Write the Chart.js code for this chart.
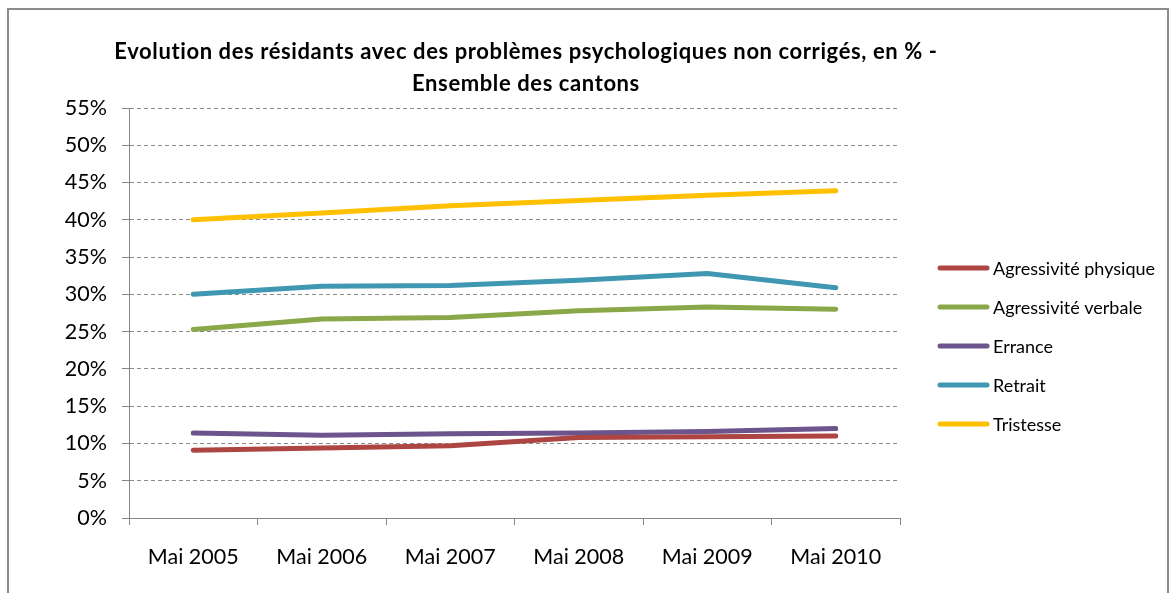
<!DOCTYPE html>
<html>
<head>
<meta charset="utf-8">
<script src="https://cdn.jsdelivr.net/npm/chart.js@4.4.1/dist/chart.umd.min.js"></script>
<style>
    html, body { margin: 0; padding: 0; background: #fff; }
    #wrap { position: relative; width: 1176px; height: 593px; overflow: hidden; }
    #frame { position: absolute; left: 7px; top: 8px; width: 1162px; height: 620px; border: 2px solid #8c8c8c; box-sizing: border-box; }
    canvas { position: absolute; left: 0; top: 0; }
</style>
</head>
<body>
<div id="wrap">
    <div id="frame"></div>
    <canvas id="chart" width="1176" height="593"></canvas>
</div>
<script>
const FONT = 'Lato, "Open Sans", sans-serif';

const titleLines = [
    'Evolution des résidants avec des problèmes psychologiques non corrigés, en % -',
    'Ensemble des cantons'
];
const months = ['Mai 2005', 'Mai 2006', 'Mai 2007', 'Mai 2008', 'Mai 2009', 'Mai 2010'];

const physique = [9.1, 9.4, 9.7, 10.8, 10.9, 11.0];
const verbale = [25.3, 26.7, 26.9, 27.8, 28.3, 28.0];
const errance = [11.4, 11.1, 11.3, 11.4, 11.6, 12.0];
const retrait = [30.0, 31.1, 31.2, 31.9, 32.8, 30.9];
const tristesse = [40.0, 40.9, 41.9, 42.6, 43.3, 43.9];

const seriesNames = ['Agressivité physique', 'Agressivité verbale', 'Errance', 'Retrait', 'Tristesse'];
const seriesColors = ['#ad4542', '#8aa84a', '#6c548c', '#3f97b1', '#ffc000'];
const seriesValues = [physique, verbale, errance, retrait, tristesse];

// title + legend drawn by hand so they sit where the original puts them
const overlay = {
    id: 'overlay',
    afterDraw(chart) {
        const ctx = chart.ctx;
        ctx.save();
        ctx.fillStyle = '#000';
        ctx.textAlign = 'center';
        ctx.textBaseline = 'middle';
        ctx.font = 'bold 22px ' + FONT;
        ctx.fontVariantLigatures = 'none';
        ctx.letterSpacing = '0.6px';
        ctx.fillText(titleLines[0], 526, 52);
        ctx.fillText(titleLines[1], 526, 84);
        ctx.letterSpacing = '0px';

        ctx.font = '18px ' + FONT;
        ctx.textAlign = 'left';
        const ys = [268, 307, 346, 385, 424];
        chart.data.datasets.forEach((ds, i) => {
            ctx.strokeStyle = ds.borderColor;
            ctx.lineWidth = 5;
            ctx.lineCap = 'round';
            ctx.beginPath();
            ctx.moveTo(940, ys[i]);
            ctx.lineTo(987, ys[i]);
            ctx.stroke();
            ctx.fillStyle = '#000';
            ctx.fillText(ds.label, 993, ys[i] + 1);
        });
        ctx.restore();
    }
};

new Chart(document.getElementById('chart'), {
    type: 'line',
    data: {
        labels: months,
        datasets: seriesNames.map((name, i) => ({
            label: name,
            data: seriesValues[i],
            borderColor: seriesColors[i],
            backgroundColor: seriesColors[i],
            borderWidth: 5,
            borderCapStyle: 'round',
            borderJoinStyle: 'round',
            pointRadius: 0,
            tension: 0
        }))
    },
    options: {
        responsive: false,
        animation: false,
        layout: { padding: { left: 10, right: 276, top: 108, bottom: 0 } },
        plugins: {
            legend: { display: false },
            title: { display: false },
            tooltip: { enabled: false }
        },
        scales: {
            x: {
                offset: true,
                afterFit(scale) { scale.height = 75; },
                grid: {
                    offset: true,
                    drawOnChartArea: false,
                    drawTicks: true,
                    tickLength: 7,
                    color: '#868686'
                },
                border: { display: true, color: '#868686', width: 1 },
                ticks: {
                    color: '#000',
                    padding: 19,
                    maxRotation: 0,
                    font: { family: FONT, size: 21.5 }
                }
            },
            y: {
                min: 0,
                max: 55,
                afterFit(scale) { scale.width = 119; },
                grid: {
                    color: '#8c8c8c',
                    tickLength: 7,
                    tickBorderDash: [],
                    tickColor: '#868686'
                },
                border: { display: true, color: '#868686', width: 1, dash: [4, 3] },
                ticks: {
                    stepSize: 5,
                    color: '#000',
                    padding: 15,
                    font: { family: FONT, size: 21.5 },
                    callback: v => v + '%'
                }
            }
        }
    },
    plugins: [overlay]
});
</script>
</body>
</html>
